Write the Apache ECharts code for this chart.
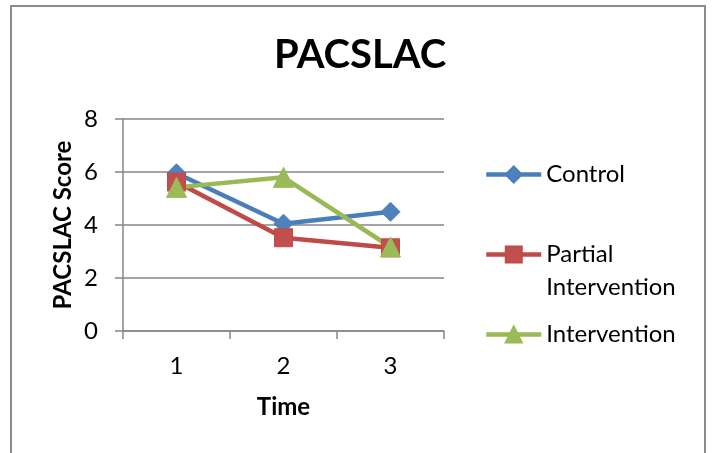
<!DOCTYPE html>
<html>
<head>
<meta charset="utf-8">
<script src="https://cdn.jsdelivr.net/npm/echarts@6/dist/echarts.min.js"></script>
<style>
html,body{margin:0;padding:0;background:#fff;overflow:hidden;}
#chart{width:713px;height:453px;}
</style>
</head>
<body>
<div id="chart"></div>
<script>
const categories = ['1', '2', '3'];
const control = [5.95, 4.05, 4.5];
const partial = [5.62, 3.52, 3.14];
const intervention = [5.42, 5.8, 3.17];
const yTicks = [0, 2, 4, 6, 8];

const FONT = 'Lato';
const chart = echarts.init(document.getElementById('chart'));

function legendBox(name, top, fmt) {
  return {
    data: [name], orient: 'vertical', left: 479, top: top,
    itemWidth: 55, itemHeight: 20, itemGap: 0,
    lineStyle: { width: 4.5 },
    textStyle: { fontFamily: FONT, fontSize: 24, color: '#000', lineHeight: 33 },
    formatter: fmt || undefined,
    selectedMode: false
  };
}

chart.setOption({
  animation: false,
  backgroundColor: '#fff',
  title: {
    text: 'PACSLAC', left: 355, top: 30, textAlign: 'center',
    textStyle: { fontFamily: FONT, fontWeight: 'bold', fontSize: 40, color: '#000' }
  },
  graphic: [{
    type: 'rect', shape: { x: 11, y: 6, width: 694, height: 500 },
    style: { fill: 'none', stroke: '#8c8c8c', lineWidth: 2 }, silent: true, z: -1
  }],
  legend: [
    legendBox('Control', 153),
    legendBox('Partial Intervention', 200, function () { return '\nPartial\nIntervention'; }),
    legendBox('Intervention', 313)
  ],
  grid: { left: 123, right: 269, top: 119, bottom: 122, containLabel: false },
  xAxis: {
    type: 'category', data: categories, boundaryGap: true,
    name: 'Time', nameLocation: 'middle', nameGap: 64,
    nameTextStyle: { fontFamily: FONT, fontWeight: 'bold', fontSize: 24, color: '#000' },
    axisLine: { lineStyle: { color: '#868686', width: 1.5 } },
    axisTick: { show: true, length: 8, inside: false, alignWithLabel: false, lineStyle: { color: '#868686', width: 1.5 } },
    axisLabel: { fontFamily: FONT, fontSize: 24, color: '#000', margin: 23 }
  },
  yAxis: {
    type: 'value', min: 0, max: 8, interval: 2,
    name: 'PACSLAC Score', nameLocation: 'middle', nameGap: 48, nameRotate: 90,
    nameTextStyle: { fontFamily: FONT, fontWeight: 'bold', fontSize: 24, color: '#000' },
    axisLine: { show: true, lineStyle: { color: '#868686', width: 1.5 } },
    axisTick: { show: true, length: 8, lineStyle: { color: '#868686', width: 1.5 } },
    axisLabel: { fontFamily: FONT, fontSize: 24, color: '#000', margin: 25,
      formatter: function (v) { return yTicks.indexOf(v) >= 0 ? String(v) : ''; } },
    splitLine: { show: true, lineStyle: { color: '#868686', width: 1.5 } }
  },
  series: [
    {
      name: 'Control', type: 'line', data: control,
      symbol: 'diamond', symbolSize: 19,
      lineStyle: { color: '#4A7EBB', width: 4.5 },
      itemStyle: { color: '#4F81BD', borderColor: '#4A7EBB', borderWidth: 1 }
    },
    {
      name: 'Partial Intervention', type: 'line', data: partial,
      symbol: 'rect', symbolSize: 18,
      lineStyle: { color: '#BE4B48', width: 4.5 },
      itemStyle: { color: '#C0504D', borderColor: '#BE4B48', borderWidth: 1 }
    },
    {
      name: 'Intervention', type: 'line', data: intervention,
      symbol: 'triangle', symbolSize: 20,
      lineStyle: { color: '#98B954', width: 4.5 },
      itemStyle: { color: '#9BBB59', borderColor: '#98B954', borderWidth: 1 }
    }
  ]
});
</script>
</body>
</html>
